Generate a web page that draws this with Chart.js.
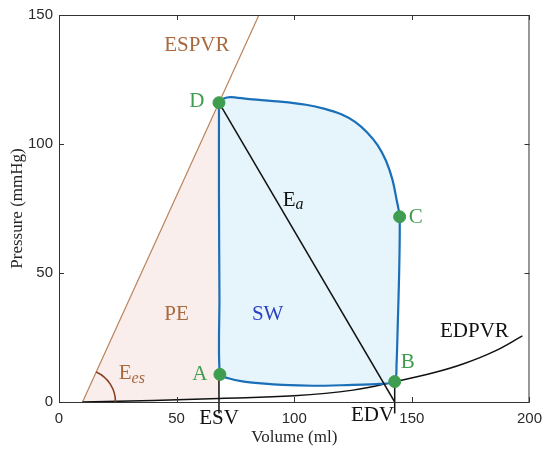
<!DOCTYPE html>
<html>
<head>
<meta charset="utf-8">
<script src="https://cdn.jsdelivr.net/npm/chart.js@4"></script>
<style>
  html, body { margin: 0; padding: 0; background: #fff; }
  #wrap { width: 550px; height: 456px; }
</style>
</head>
<body>
<div id="wrap"><canvas id="pvChart" width="550" height="456"></canvas></div>
<script>
// pressure-volume loop, values (ml, mmHg)
const loopVolume   = [68, 70, 73, 80, 94, 105, 113, 120, 126, 131, 135.5, 139, 141.8, 143.6, 144.8, 144.6, 144, 143.5, 142.7, 136, 120, 108, 95, 86, 78, 72, 68.4, 68.2, 68, 68];
const loopPressure = [116, 117.6, 118.2, 117.5, 116.4, 115.2, 113.6, 111.5, 108.5, 104.5, 99.5, 93.5, 86, 78, 71.8, 50, 30, 15, 7.9, 7.0, 6.5, 6.3, 6.6, 7.2, 8.0, 9.2, 10.7, 40, 80, 116];

// ESPVR (end systolic) line
const espvrVolume   = [10, 85];
const espvrPressure = [0, 150];

// EDPVR (end diastolic) curve
const edpvrVolume   = [10, 40, 68, 100, 125, 143, 160, 172, 185, 197];
const edpvrPressure = [0, 0.6, 1.4, 2.4, 4.6, 7.9, 11.5, 14.8, 19.6, 25.6];

// PE area (between ESPVR, ESV and EDPVR)
const peVolume   = [10, 68, 68, 40, 10];
const pePressure = [0, 116, 1.4, 0.6, 0];

// arterial elastance line D -> EDV
const eaVolume   = [68, 142.7];
const eaPressure = [116, 0];

// marked points A, B, C, D
const pointNames    = ['A', 'B', 'C', 'D'];
const pointVolume   = [68.4, 142.7, 144.8, 68];
const pointPressure = [10.7, 7.9, 71.8, 116];

const ESV = 68;
const EDV = 142.7;

const xTicks = [0, 50, 100, 150, 200];
const yTicks = [0, 50, 100, 150];

function toXY(xs, ys) {
    return xs.map((x, i) => ({ x: x, y: ys[i] }));
}

const GREEN = '#3f9d4f';
const BROWN = '#a8693d';
const SERIF = '"Liberation Serif", "Times New Roman", serif';

// text annotations, placed in data units
const labels = [
    { text: 'ESPVR', x: 58.6, y: 138, color: BROWN },
    { text: 'PE', x: 50, y: 34, color: BROWN },
    { text: 'SW', x: 88.7, y: 34, color: '#2b3fc2' },
    { text: 'EDPVR', x: 176.6, y: 27.2, color: '#111' },
    { text: 'D', x: 58.6, y: 116.3, color: GREEN },
    { text: 'C', x: 151.6, y: 71.7, color: GREEN },
    { text: 'B', x: 148.2, y: 15.5, color: GREEN },
    { text: 'A', x: 59.9, y: 10.5, color: GREEN },
    { text: 'ESV', x: 68, y: -6.3, color: '#111' },
    { text: 'EDV', x: 133.3, y: -5.2, color: '#111' }
];

const extras = {
    id: 'extras',
    afterDatasetsDraw(chart) {
        const ctx = chart.ctx;
        const xs = chart.scales.x, ys = chart.scales.y;
        const a = chart.chartArea;
        ctx.save();

        // box and inward ticks
        ctx.strokeStyle = '#333';
        ctx.lineWidth = 1;
        ctx.strokeRect(a.left + 0.5, a.top + 0.5, a.right - a.left - 1, a.bottom - a.top);
        ctx.beginPath();
        xTicks.forEach(t => {
            const px = Math.round(xs.getPixelForValue(t)) + 0.5;
            ctx.moveTo(px, a.bottom); ctx.lineTo(px, a.bottom - 5);
            ctx.moveTo(px, a.top); ctx.lineTo(px, a.top + 5);
        });
        yTicks.forEach(t => {
            const py = Math.round(ys.getPixelForValue(t)) + 0.5;
            ctx.moveTo(a.left, py); ctx.lineTo(a.left + 5, py);
            ctx.moveTo(a.right, py); ctx.lineTo(a.right - 5, py);
        });
        ctx.stroke();

        // Ees angle arc
        const cx = xs.getPixelForValue(espvrVolume[0]);
        const cy = ys.getPixelForValue(espvrPressure[0]);
        const ex = xs.getPixelForValue(espvrVolume[1]);
        const ey = ys.getPixelForValue(espvrPressure[1]);
        const ang = Math.atan2(ey - cy, ex - cx);
        ctx.strokeStyle = '#8b3f1f';
        ctx.lineWidth = 1.6;
        ctx.beginPath();
        ctx.arc(cx, cy, 33, ang, 0);
        ctx.stroke();

        // text labels
        ctx.textAlign = 'center';
        ctx.textBaseline = 'middle';
        ctx.font = '21px ' + SERIF;
        labels.forEach(l => {
            ctx.fillStyle = l.color;
            ctx.fillText(l.text, xs.getPixelForValue(l.x), ys.getPixelForValue(l.y));
        });

        // E with subscripts
        function subE(sub, x, y, color) {
            const px = xs.getPixelForValue(x), py = ys.getPixelForValue(y);
            ctx.fillStyle = color;
            ctx.textAlign = 'left';
            ctx.font = '21px ' + SERIF;
            ctx.fillText('E', px - 12, py);
            const w = ctx.measureText('E').width;
            ctx.font = 'italic 16px ' + SERIF;
            ctx.fillText(sub, px - 12 + w, py + 5);
        }
        subE('a', 100.2, 78.3, '#111');
        subE('es', 30.5, 10.9, BROWN);

        ctx.restore();
    }
};

const ctx = document.getElementById('pvChart').getContext('2d');
new Chart(ctx, {
    type: 'scatter',
    data: {
        datasets: [
            {
                label: 'points',
                data: toXY(pointVolume, pointPressure),
                backgroundColor: GREEN,
                borderColor: GREEN,
                pointRadius: 6,
                pointHoverRadius: 6,
                order: 0
            },
            {
                label: 'ESV',
                data: [{ x: ESV, y: pointPressure[0] }, { x: ESV, y: -4.5 }],
                showLine: true, borderColor: '#111', borderWidth: 1.5,
                pointRadius: 0, clip: false, order: 1
            },
            {
                label: 'EDV',
                data: [{ x: EDV, y: pointPressure[1] }, { x: EDV, y: -4.5 }],
                showLine: true, borderColor: '#111', borderWidth: 1.5,
                pointRadius: 0, clip: false, order: 1
            },
            {
                label: 'Ea',
                data: toXY(eaVolume, eaPressure),
                showLine: true, borderColor: '#111', borderWidth: 1.5,
                pointRadius: 0, order: 2
            },
            {
                label: 'loop',
                data: toXY(loopVolume, loopPressure),
                showLine: true, borderColor: '#1a6fb8', borderWidth: 2.2,
                backgroundColor: '#e6f5fc', fill: 'shape',
                tension: 0.25, pointRadius: 0, order: 3
            },
            {
                label: 'EDPVR',
                data: toXY(edpvrVolume, edpvrPressure),
                showLine: true, borderColor: '#111', borderWidth: 1.5,
                tension: 0.4,
                pointRadius: 0, order: 4
            },
            {
                label: 'ESPVR',
                data: toXY(espvrVolume, espvrPressure),
                showLine: true, borderColor: '#b9845b', borderWidth: 1.2,
                pointRadius: 0, order: 5
            },
            {
                label: 'PE',
                data: toXY(peVolume, pePressure),
                showLine: true, borderWidth: 0, borderColor: 'rgba(0,0,0,0)',
                backgroundColor: '#f9eeec', fill: 'shape',
                pointRadius: 0, order: 6
            }
        ]
    },
    options: {
        responsive: false,
        animation: false,
        events: [],
        layout: { padding: { left: 0, top: 15, right: 20, bottom: 0 } },
        plugins: {
            legend: { display: false },
            tooltip: { enabled: false }
        },
        scales: {
            x: {
                type: 'linear', min: 0, max: 200,
                grid: { display: false, drawTicks: false },
                border: { display: false },
                afterFit: s => { s.height = 54; },
                afterBuildTicks: s => { s.ticks = xTicks.map(v => ({ value: v })); },
                ticks: { padding: 8, color: '#2a2a2a', font: { family: '"Liberation Sans", Arial, sans-serif', size: 15 } },
                title: {
                    display: true, text: 'Volume (ml)', color: '#262626',
                    font: { family: SERIF, size: 17 }, padding: { top: 0, bottom: 8 }
                }
            },
            y: {
                type: 'linear', min: 0, max: 150,
                grid: { display: false, drawTicks: false },
                border: { display: false },
                afterFit: s => { s.width = 59; },
                afterBuildTicks: s => { s.ticks = yTicks.map(v => ({ value: v })); },
                ticks: { padding: 6, color: '#2a2a2a', font: { family: '"Liberation Sans", Arial, sans-serif', size: 15 } },
                title: {
                    display: true, text: 'Pressure (mmHg)', color: '#262626',
                    font: { family: SERIF, size: 17 }, padding: { top: 7, bottom: 0 }
                }
            }
        }
    },
    plugins: [extras]
});
</script>
</body>
</html>
